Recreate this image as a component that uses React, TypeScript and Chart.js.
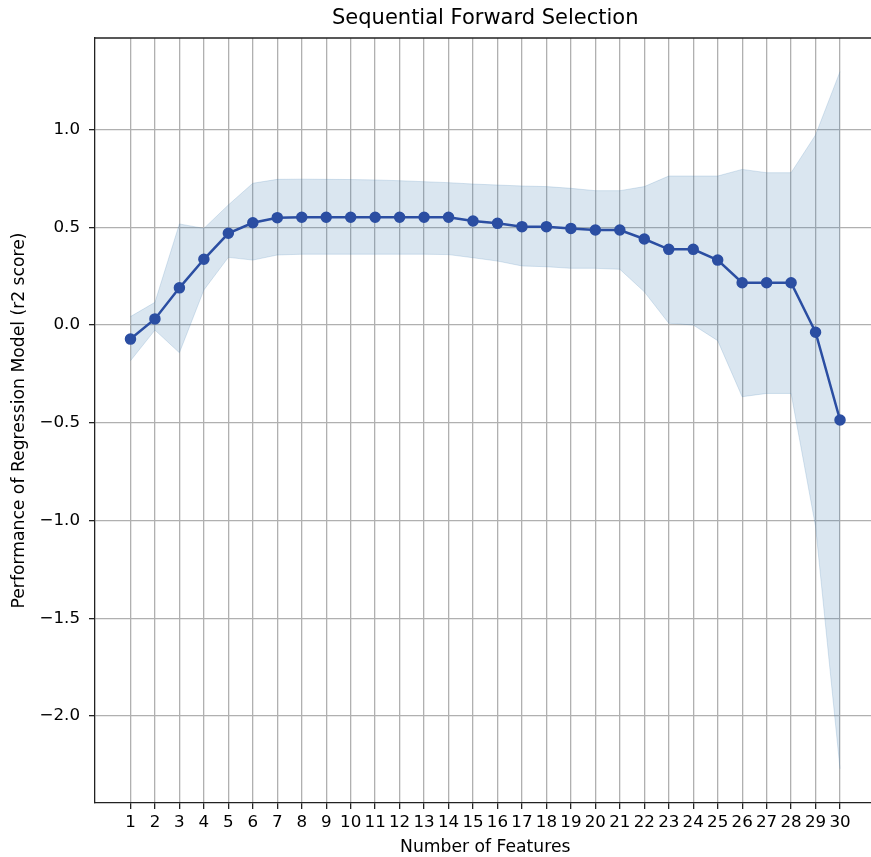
import React, { useEffect, useRef } from 'react';
import { Chart, registerables } from 'chart.js';

Chart.register(...registerables);

const features = [1, 2, 3, 4, 5, 6, 7, 8, 9, 10, 11, 12, 13, 14, 15, 16, 17, 18, 19, 20, 21, 22, 23, 24, 25, 26, 27, 28, 29, 30];
const meanScore = [-0.072, 0.031, 0.19, 0.336, 0.469, 0.523, 0.549, 0.551, 0.551, 0.551, 0.551, 0.551, 0.551, 0.551, 0.532, 0.52, 0.503, 0.503, 0.494, 0.486, 0.486, 0.44, 0.387, 0.387, 0.332, 0.216, 0.216, 0.216, -0.037, -0.486];
const upperBand = [0.043, 0.116, 0.517, 0.494, 0.614, 0.725, 0.745, 0.746, 0.745, 0.744, 0.742, 0.738, 0.733, 0.728, 0.721, 0.716, 0.711, 0.708, 0.699, 0.687, 0.687, 0.708, 0.762, 0.762, 0.762, 0.796, 0.779, 0.779, 0.972, 1.296];
const lowerBand = [-0.183, -0.026, -0.142, 0.179, 0.346, 0.332, 0.358, 0.362, 0.362, 0.362, 0.362, 0.362, 0.362, 0.36, 0.344, 0.327, 0.302, 0.298, 0.29, 0.29, 0.285, 0.17, 0.009, 0.0, -0.08, -0.367, -0.35, -0.35, -1.03, -2.27];
const yTickValues = [-2.0, -1.5, -1.0, -0.5, 0.0, 0.5, 1.0];

const FONT = 'DejaVu Sans';
const LINE_COLOR = '#2b4ea2';
const BAND_COLOR = 'rgba(70,130,180,0.2)';

export default function App() {
  const ref = useRef<HTMLCanvasElement>(null);

  useEffect(() => {
    const spines = {
      id: 'spines',
      afterDraw(chart: any) {
        const { ctx, chartArea: a } = chart;
        ctx.save();
        ctx.strokeStyle = '#222';
        ctx.lineWidth = 1.3;
        ctx.beginPath();
        ctx.moveTo(a.left, a.top);
        ctx.lineTo(a.right, a.top);
        ctx.lineTo(a.right, a.bottom);
        ctx.stroke();
        ctx.restore();
      },
    };

    const chart = new Chart(ref.current as HTMLCanvasElement, {
      type: 'line',
      data: {
        datasets: [
          {
            data: features.map((f, i) => ({ x: f, y: meanScore[i] })),
            borderColor: LINE_COLOR,
            backgroundColor: LINE_COLOR,
            borderWidth: 2.5,
            pointRadius: 5,
            pointBorderWidth: 1.5,
            pointBackgroundColor: LINE_COLOR,
            pointBorderColor: LINE_COLOR,
            fill: false,
            tension: 0,
          },
          {
            data: features.map((f, i) => ({ x: f, y: lowerBand[i] })),
            borderColor: BAND_COLOR,
            borderWidth: 1,
            pointRadius: 0,
            fill: false,
            tension: 0,
          },
          {
            data: features.map((f, i) => ({ x: f, y: upperBand[i] })),
            borderColor: BAND_COLOR,
            borderWidth: 1,
            backgroundColor: BAND_COLOR,
            pointRadius: 0,
            fill: '-1',
            tension: 0,
          },
        ],
      },
      options: {
        responsive: false,
        animation: false,
        events: [],
        layout: { padding: 0 },
        plugins: {
          legend: { display: false },
          tooltip: { enabled: false },
          title: {
            display: true,
            text: 'Sequential Forward Selection',
            color: '#000',
            font: { family: FONT, size: 21, weight: 'normal' },
            padding: { top: 6.4, bottom: 6.4 },
            fullSize: false,
          },
        },
        scales: {
          x: {
            type: 'linear',
            min: -0.45,
            max: 31.45,
            afterBuildTicks: (s: any) => {
              s.ticks = features.map((v) => ({ value: v }));
            },
            afterFit: (s: any) => {
              s.height = 54;
            },
            ticks: {
              color: '#000',
              font: { family: FONT, size: 16.7 },
              padding: 4,
              maxRotation: 0,
              autoSkip: false,
              callback: (v: any) => String(v),
            },
            grid: {
              color: '#b0b0b0',
              lineWidth: 1.3,
              tickLength: 6,
              tickColor: '#222',
              tickWidth: 1.3,
            },
            border: { display: true, color: '#222', width: 1.3 },
            title: {
              display: true,
              text: 'Number of Features',
              color: '#000',
              font: { family: FONT, size: 17.2 },
              padding: { top: 0, bottom: -1.3 },
            },
          },
          y: {
            type: 'linear',
            min: -2.445,
            max: 1.468,
            afterBuildTicks: (s: any) => {
              s.ticks = yTickValues.map((v) => ({ value: v }));
            },
            afterFit: (s: any) => {
              s.width = 95;
            },
            ticks: {
              color: '#000',
              font: { family: FONT, size: 16.7 },
              padding: 9,
              callback: (v: any) => Number(v).toFixed(1).replace('-', '\u2212'),
            },
            grid: {
              color: '#b0b0b0',
              lineWidth: 1.3,
              tickLength: 6,
              tickColor: '#222',
              tickWidth: 1.3,
            },
            border: { display: true, color: '#222', width: 1.3 },
            title: {
              display: true,
              text: 'Performance of Regression Model (r2 score)',
              color: '#000',
              font: { family: FONT, size: 17.2 },
              padding: { top: 9, bottom: 0 },
            },
          },
        },
      },
      plugins: [spines],
    } as any);

    return () => chart.destroy();
  }, []);

  return (
    <div
      style={{
        position: 'absolute',
        left: 0,
        top: 0,
        width: 871,
        height: 857,
        overflow: 'hidden',
        background: '#fff',
      }}
    >
      <canvas ref={ref} width={882} height={857} style={{ display: 'block' }} />
    </div>
  );
}
